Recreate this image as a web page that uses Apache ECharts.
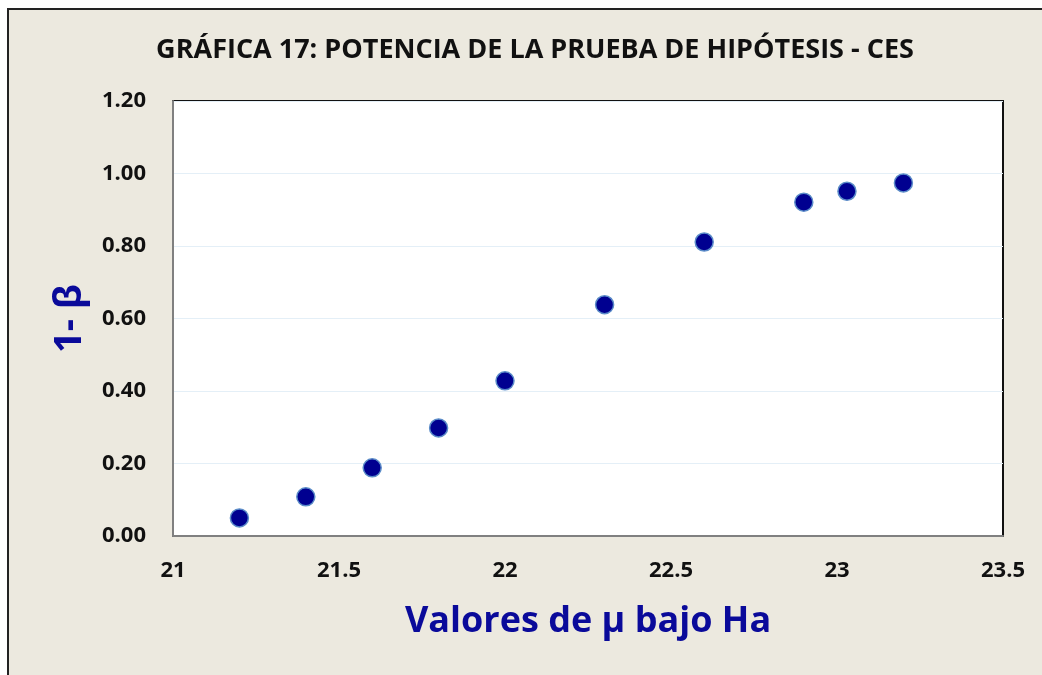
<!DOCTYPE html>
<html>
<head>
<meta charset="utf-8">
<script src="https://cdn.jsdelivr.net/npm/echarts@6/dist/echarts.min.js"></script>
<style>
html,body{margin:0;padding:0;background:#fff;}
#wrap{position:absolute;left:7px;top:8px;width:1040px;height:672px;border-left:2px solid #222;border-top:2px solid #222;background:#ECE9DF;}
#chart{position:absolute;left:-9px;top:-10px;width:1042px;height:675px;}
</style>
</head>
<body>
<div id="wrap"><div id="chart"></div></div>
<script>
// valores de mu bajo Ha
var muVals = [21.2, 21.4, 21.6, 21.8, 22.0, 22.3, 22.6, 22.9, 23.03, 23.2];
// potencia 1-beta
var potencia = [0.05, 0.108, 0.188, 0.298, 0.428, 0.638, 0.811, 0.921, 0.951, 0.974];

var pts = muVals.map(function(m, i){ return [m, potencia[i]]; });

var myChart = echarts.init(document.getElementById('chart'));
var option = {
  backgroundColor: 'transparent',
  textStyle: {fontFamily: 'Open Sans'},
  title: {
    text: 'GRÁFICA 17: POTENCIA DE LA PRUEBA DE HIPÓTESIS - CES',
    left: 530, top: 32, textAlign: 'center',
    textStyle: {fontFamily: 'Open Sans', fontWeight: 'bold', fontSize: 27, color: '#111'}
  },
  grid: {
    left: 173, right: 39, top: 101, bottom: 139,
    show: true, backgroundColor: '#fff', borderColor: '#111', borderWidth: 2
  },
  xAxis: {
    type: 'value', min: 21, max: 23.5, interval: 0.5,
    name: 'Valores de µ bajo Ha', nameLocation: 'middle', nameGap: 68,
    nameTextStyle: {fontFamily: 'Open Sans', fontWeight: 'bold', fontSize: 36, color: '#0A0A9A'},
    axisLine: {lineStyle: {color: '#808080', width: 2}},
    axisTick: {show: false},
    splitLine: {show: false},
    axisLabel: {margin: 24, fontWeight: 'bold', fontSize: 22, color: '#111', fontFamily: 'Open Sans'}
  },
  yAxis: {
    type: 'value', min: 0, max: 1.2, interval: 0.2,
    name: '1- β', nameLocation: 'middle', nameGap: 84,
    nameTextStyle: {fontFamily: 'Open Sans', fontWeight: 'bold', fontSize: 38, color: '#0A0A9A'},
    axisLine: {show: true, lineStyle: {color: '#808080', width: 2}},
    axisTick: {show: false},
    splitLine: {lineStyle: {color: '#E4EFF7', width: 1}},
    axisLabel: {
      margin: 27, fontWeight: 'bold', fontSize: 22, color: '#111', fontFamily: 'Open Sans',
      formatter: function(v){ return v.toFixed(2); }
    }
  },
  series: [{
    type: 'scatter',
    data: pts,
    symbol: 'circle',
    symbolSize: 18,
    itemStyle: {color: '#000090', borderColor: '#5B8CC8', borderWidth: 1.5, opacity: 1}
  }]
};
myChart.setOption(option);
</script>
</body>
</html>
